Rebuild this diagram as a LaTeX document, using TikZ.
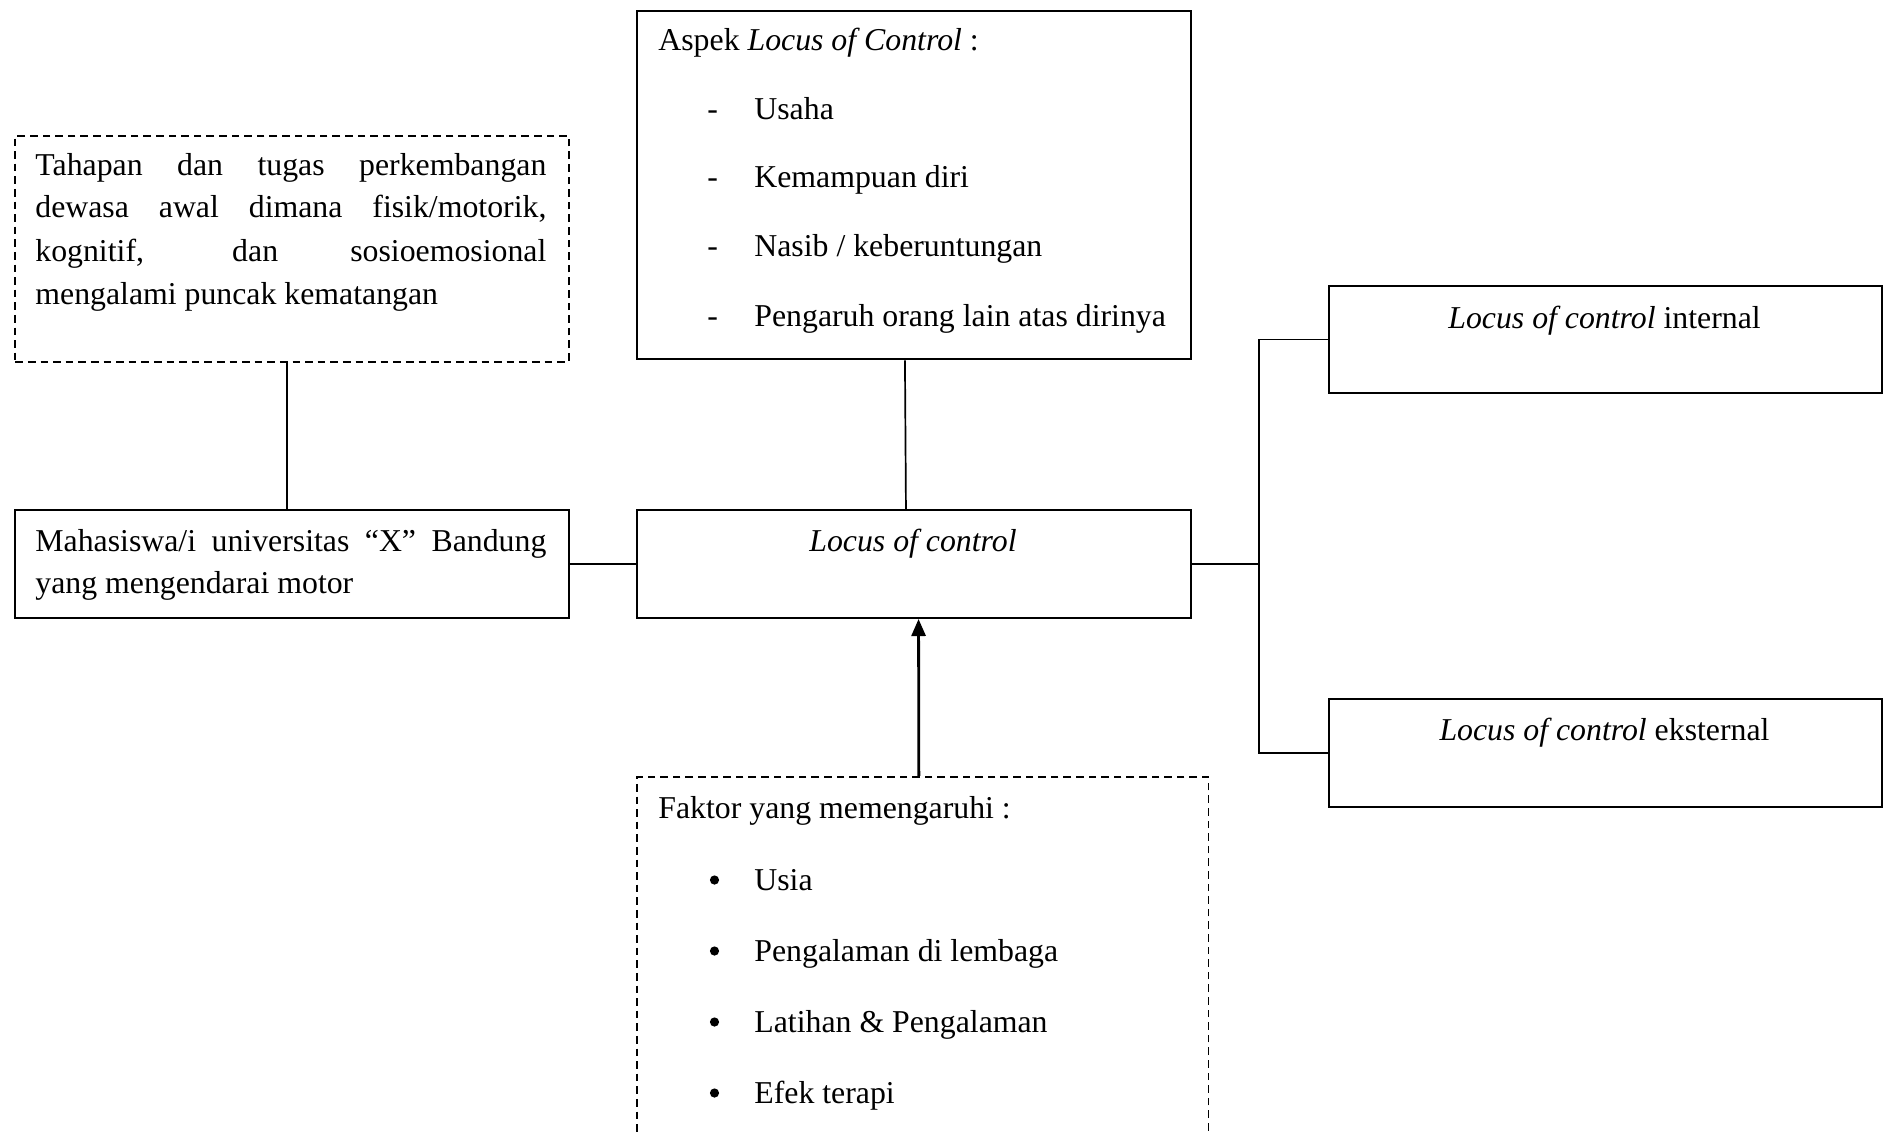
\documentclass[tikz,border=0pt]{standalone}
\usepackage{fontspec}
\setmainfont{Liberation Serif}
\usetikzlibrary{arrows.meta}
\begin{document}
\begin{tikzpicture}[x=0.5pt,y=-0.5pt,
  every node/.style={font=\fontsize{15.9pt}{21.65pt}\selectfont},
  solidbox/.style={draw, line width=1pt, inner sep=0pt, anchor=north west, minimum width=276.65pt},
  dashbox/.style={draw, line width=0.9pt, dash pattern=on 3.8pt off 2.5pt, inner sep=0pt, anchor=north west},
  txt/.style={inner sep=0pt, anchor=base west},
  ctxt/.style={inner sep=0pt, anchor=base},
  dot/.style={circle, fill, inner sep=0pt, minimum size=4.6pt},
  conn/.style={line width=0.85pt},
  arr/.style={line width=1.4pt, -{Triangle[length=8.5pt,width=7pt]}}
]
\clip (0,0) rectangle (1886,1131);
\fill[white] (0,0) rectangle (1886,1131);

% boxes
\node[dashbox, minimum width=276.65pt, minimum height=113.05pt] (tahapan) at (14.4,134.7) {};
\node[solidbox, minimum height=174.4pt] (aspek) at (636.3,9.6) {};
\node[solidbox, minimum height=54.1pt] (mhs) at (14.4,508.8) {};
\node[solidbox, minimum height=54.1pt] (loc) at (636.3,508.8) {};
\node[solidbox, minimum height=53.5pt] (intbox) at (1327.9,285.1) {};
\node[solidbox, minimum height=54.15pt] (extbox) at (1327.9,697.6) {};
\node[dashbox, minimum width=285.65pt, minimum height=200pt] (faktor) at (636.3,775.8) {};

% tahapan text
\node[txt] (t1) at (35,175.6) {\makebox[255.5pt][s]{Tahapan dan tugas perkembangan}};
\node[txt] (t2) at (35,217.7) {\makebox[255.5pt][s]{dewasa awal dimana fisik/motorik,}};
\node[txt] (t3) at (35,261) {\makebox[255.5pt][s]{kognitif, dan sosioemosional}};
\node[txt] (t4) at (35,304) {mengalami puncak kematangan};

% aspek text
\node[txt] (a0) at (658,50.5) {Aspek \textit{Locus of Control} :};
\node[txt] (ad1) at (707,119) {-};
\node[txt] (a1) at (754,119) {Usaha};
\node[txt] (ad2) at (707,187.6) {-};
\node[txt] (a2) at (754,187.6) {Kemampuan diri};
\node[txt] (ad3) at (707,256) {-};
\node[txt] (a3) at (754,256) {Nasib / keberuntungan};
\node[txt] (ad4) at (707,326) {-};
\node[txt] (a4) at (754,326) {Pengaruh orang lain atas dirinya};

% mahasiswa text
\node[txt] (m1) at (35,551) {\makebox[255.5pt][s]{Mahasiswa/i universitas “X” Bandung}};
\node[txt] (m2) at (35,593) {yang mengendarai motor};

% locus text
\node[ctxt] (lt) at (913,551) {\textit{Locus of control}};
\node[ctxt] (it) at (1604.5,328) {\textit{Locus of control} internal};
\node[ctxt] (et) at (1604.5,740) {\textit{Locus of control} eksternal};

% faktor text
\node[txt] (f0) at (658,818) {Faktor yang memengaruhi :};
\node[dot] (fb1) at (714.5,880) {};
\node[txt] (f1) at (754,890) {Usia};
\node[dot] (fb2) at (714.5,951) {};
\node[txt] (f2) at (754,961) {Pengalaman di lembaga};
\node[dot] (fb3) at (714.5,1022) {};
\node[txt] (f3) at (754,1032) {Latihan \& Pengalaman};
\node[dot] (fb4) at (714.5,1093) {};
\node[txt] (f4) at (754,1103) {Efek terapi};

% connectors
\coordinate (branch) at (1259.3,0);
\draw[conn] ([xshift=-2.5pt]tahapan.south) -- ([xshift=-2.5pt]mhs.north);
\draw[conn] ([xshift=-4.5pt]aspek.south) -- ([xshift=-4pt]loc.north);
\draw[conn] (mhs.east) -- (loc.west);
\draw[conn] (loc.east) -- (loc.east -| branch);
\draw[conn] (intbox.west) -- (intbox.west -| branch) -- (extbox.west -| branch) -- (extbox.west);
\draw[arr] ([xshift=-2pt]faktor.north) -- ([xshift=2.3pt]loc.south);
\end{tikzpicture}
\end{document}
